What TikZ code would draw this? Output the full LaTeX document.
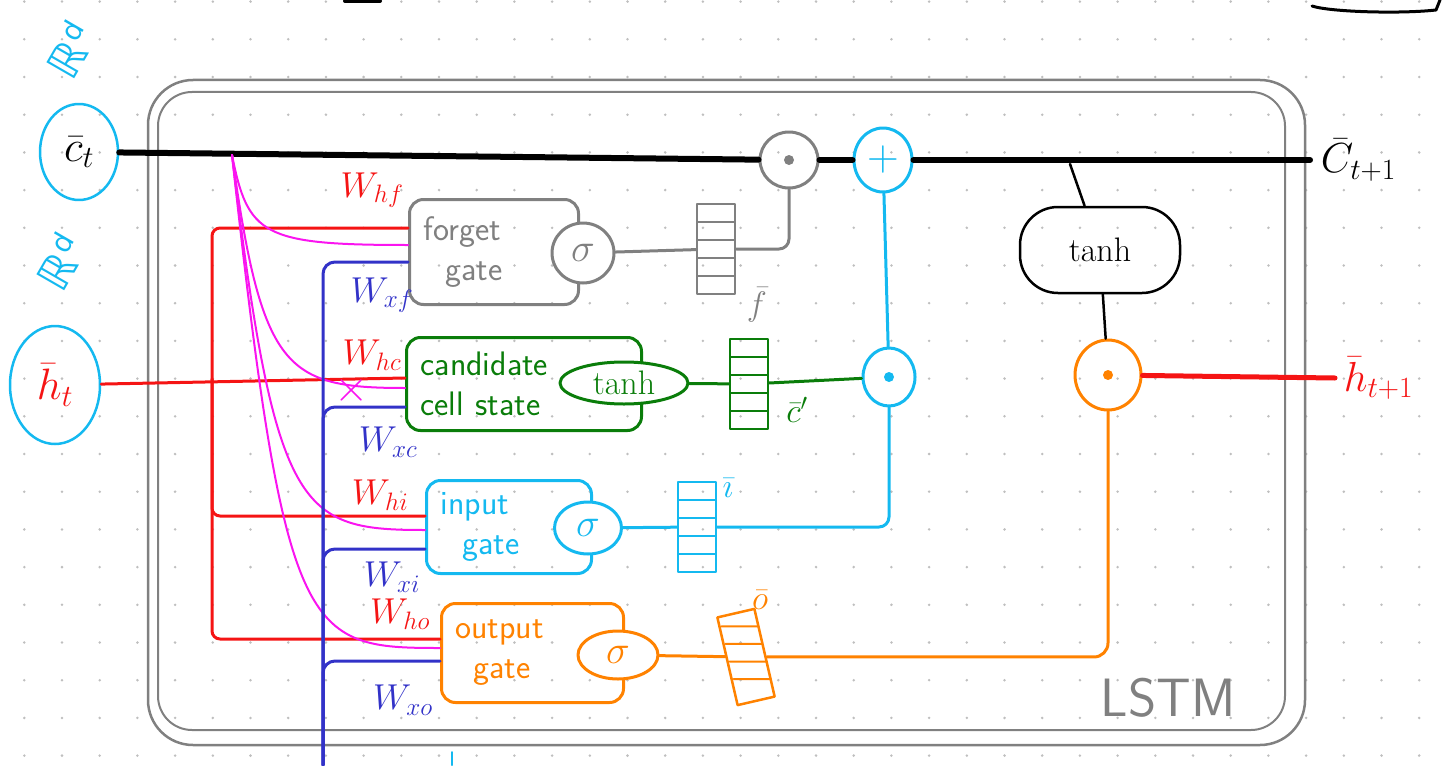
\RequirePackage{fix-cm}
\documentclass[tikz,border=0pt]{standalone}
\usepackage{amsmath}
\usepackage{amssymb}
\usepackage{fontspec}
\newfontfamily\dvfont{DejaVu Sans}
\usetikzlibrary{positioning,shapes.geometric}

\definecolor{penred}{RGB}{245,20,20}
\definecolor{penmag}{RGB}{250,20,240}
\definecolor{penblue}{RGB}{50,50,200}
\definecolor{pencyan}{RGB}{20,185,240}
\definecolor{pengreen}{RGB}{10,125,10}
\definecolor{penorange}{RGB}{255,130,0}
\definecolor{pengray}{RGB}{128,128,128}

\begin{document}
\begin{tikzpicture}[%
    x=1pt, y=-1pt,
    line cap=round, line join=round,
    line width=3pt,
    every node/.style={font=\fontsize{34}{38}\selectfont},
    gatebox/.style={draw, line width=3pt, rounded corners=14pt, anchor=west,
        align=left, inner xsep=14pt, inner ysep=4pt,
        font=\sffamily\fontsize{34}{40}\selectfont},
    sig/.style={draw, ellipse, fill=white, line width=3pt, inner sep=0pt,
        font=\fontsize{40}{40}\selectfont},
    vec/.style={draw, line width=2.5pt, minimum width=38pt, minimum height=90pt,
        inner sep=0pt,
        path picture={\foreach \k in {1,...,4}
            \draw[line width=2pt] ([yshift=-\k*18pt]path picture bounding box.north west)
                -- ([yshift=-\k*18pt]path picture bounding box.north east);}},
    odot/.style={draw=#1, ellipse, line width=3pt, inner sep=0pt,
        path picture={\fill[#1] (path picture bounding box.center) circle (5pt);}},
    wlab/.style={font=\fontsize{36}{36}\selectfont},
    space/.style={text=pencyan, rotate=60, font=\dvfont\fontsize{44}{44}\selectfont}
    ]

    % dotted paper
    \foreach \i in {0,...,37}
        \foreach \j in {0,...,20}
            \fill[black!25] (24.3+37.7*\i, 1.6+37.7*\j) circle (1.4pt);
    \useasboundingbox (0,0) rectangle (1447,765);

    % LSTM cell frame
    \draw[pengray, line width=2.5pt, rounded corners=45pt] (148,80) rectangle (1305,745);
    \draw[pengray, line width=2pt, rounded corners=34pt] (158,92) rectangle (1285,730);
    \node[text=pengray, font=\sffamily\fontsize{54}{54}\selectfont] (lstm) at (1168,698) {LSTM};

    % bits cut off at the top edge
    \draw[line width=3pt] (1312,6) .. controls (1330,12) and (1400,14) .. (1436,10) -- (1440,0);
    \draw[line width=4pt] (345,1) -- (380,1);
    \draw[pencyan, line width=2pt] (452,752) -- (452,765);

    % inputs
    \node[draw=pencyan, ellipse, line width=2.5pt, minimum width=78pt, minimum height=96pt,
          font=\fontsize{44}{44}\selectfont] (ct) at (79,152) {$\bar{c}_t$};
    \node[draw=pencyan, ellipse, line width=2.5pt, minimum width=90pt, minimum height=118pt,
          text=penred, font=\fontsize{44}{44}\selectfont] (ht) at (55,385) {$\bar{h}_t$};
    \node[space] (rdc) at (70,50) {ℝ\raisebox{16pt}{\fontsize{28}{28}\selectfont d}};
    \node[space] (rdh) at (60,262) {ℝ\raisebox{16pt}{\fontsize{28}{28}\selectfont d}};

    % cell state line
    \node[odot=pengray, minimum width=58pt, minimum height=56pt] (fmul) at (789,160) {};
    \node[draw=pencyan, ellipse, line width=3pt, minimum width=58pt, minimum height=64pt,
          text=pencyan, font=\fontsize{44}{44}\selectfont] (cadd) at (883,160) {$+$};
    \coordinate (cend) at (1310,160);
    \node[right=6pt of cend, font=\fontsize{42}{42}\selectfont] (cout) {$\bar{C}_{t+1}$};
    \path[line width=6pt] (ct) edge (fmul) (fmul) edge (cadd) (cadd) edge (cend);

    % output side
    \node[draw, line width=2.5pt, rounded corners=38pt, minimum width=160pt,
          minimum height=86pt] (tanh) at (1100,250) {tanh};
    \coordinate (tap) at (1070,164);
    \node[odot=penorange, minimum width=66pt, minimum height=70pt] (hmul) at (1108,375) {};
    \coordinate (hend) at (1335,378);
    \node[right=4pt of hend, text=penred, font=\fontsize{42}{42}\selectfont] (hout) {$\bar{h}_{t+1}$};
    \path[line width=2.5pt] (tap) edge (tanh) (tanh) edge (hmul);
    \path[penred, line width=5pt] (hmul) edge (hend);

    \node[odot=pencyan, minimum width=52pt, minimum height=58pt] (imul) at (889,377) {};
    \path[pencyan] (cadd) edge (imul);

    % gates
    \node[gatebox, draw=pengray, text=pengray, text width=141pt, minimum height=105pt]
        (fgate) at (408,252) {forget\\\hspace*{22pt}gate};
    \node[sig, draw=pengray, text=pengray, minimum width=62pt, minimum height=60pt]
        (fsig) at (583,253) {$\sigma$};
    \node[vec, draw=pengray] (fvec) at (716,249) {};
    \node[text=pengray] (flab) at (757,305) {$\bar{f}$};

    \node[gatebox, draw=pengreen, text=pengreen, text width=207pt, minimum height=93pt]
        (cgate) at (405,384) {candidate\\cell state};
    \node[draw=pengreen, ellipse, fill=white, line width=3pt, minimum width=128pt,
          minimum height=42pt, inner sep=0pt, text=pengreen] (ctanh) at (624,383) {tanh};
    \node[vec, draw=pengreen] (cvec) at (749,384) {};
    \node[text=pengreen] (clab) at (797,410) {$\bar{c}'$};

    \node[gatebox, draw=pencyan, text=pencyan, text width=137pt, minimum height=93pt]
        (igate) at (425,527) {input\\\hspace*{22pt}gate};
    \node[sig, draw=pencyan, text=pencyan, minimum width=67pt, minimum height=52pt]
        (isig) at (588,528) {$\sigma$};
    \node[vec, draw=pencyan] (ivec) at (697,527) {};
    \node[text=pencyan] (ilab) at (728,488) {$\bar{\imath}$};

    \node[gatebox, draw=penorange, text=penorange, text width=154pt, minimum height=99pt]
        (ogate) at (440,653) {output\\\hspace*{18pt}gate};
    \node[sig, draw=penorange, text=penorange, minimum width=80pt, minimum height=48pt]
        (osig) at (618,655) {$\sigma$};
    \node[vec, draw=penorange, rotate=13] (ovec) at (746,657) {};
    \node[text=penorange] (olab) at (760,600) {$\bar{o}$};

    % gate outputs
    \path[pengray] (fsig) edge (fvec);
    \draw[pengray, rounded corners=10pt] (fvec) -| (fmul);
    \path[pengreen] (ctanh) edge (cvec) (cvec) edge (imul);
    \path[pencyan] (isig) edge (ivec);
    \draw[pencyan, rounded corners=10pt] (ivec) -| (imul);
    \path[penorange] (osig) edge (ovec);
    \draw[penorange, rounded corners=14pt] (ovec) -| (hmul);

    % h_t into the gates
    \coordinate (hsplit) at (212,379);
    \draw[penred] (ht) -- ([yshift=6pt]cgate.west);
    \draw[penred, rounded corners=8pt] (hsplit) |- ([yshift=24pt]fgate.west);
    \draw[penred, rounded corners=8pt] (hsplit) |- ([yshift=11pt]igate.west);
    \draw[penred, rounded corners=8pt] (hsplit) |- ([yshift=14pt]ogate.west);

    % c_t peepholes
    \coordinate (cpeep) at (232,155);
    \draw[penmag, line width=2pt] (cpeep) .. controls (248,235) and (262,245) .. ([yshift=7pt]fgate.west);
    \draw[penmag, line width=2pt] (cpeep) .. controls (262,370) and (285,388) .. ([yshift=-4pt]cgate.west);
    \draw[penmag, line width=2pt] (cpeep) .. controls (275,515) and (300,530) .. ([yshift=-3pt]igate.west);
    \draw[penmag, line width=2pt] (cpeep) .. controls (285,640) and (305,648) .. ([yshift=5pt]ogate.west);
    \node[text=penmag, font=\fontsize{44}{44}\selectfont] (nopeep) at (352,390) {$\times$};

    % x_t from below
    \coordinate (xin) at (323,765);
    \draw[penblue, rounded corners=12pt] (xin) |- ([yshift=-10pt]fgate.west);
    \draw[penblue, rounded corners=12pt] (xin) |- ([yshift=-23pt]cgate.west);
    \draw[penblue, rounded corners=12pt] (xin) |- ([yshift=-22pt]igate.west);
    \draw[penblue, rounded corners=12pt] (xin) |- ([yshift=-8pt]ogate.west);

    % weight labels
    \node[wlab, text=penred] (whf) at (372,190) {$W_{hf}$};
    \node[wlab, text=penblue] (wxf) at (382,295) {$W_{xf}$};
    \node[wlab, text=penred] (whc) at (372,355) {$W_{hc}$};
    \node[wlab, text=penblue] (wxc) at (388,442) {$W_{xc}$};
    \node[wlab, text=penred] (whi) at (380,495) {$W_{hi}$};
    \node[wlab, text=penblue] (wxi) at (392,577) {$W_{xi}$};
    \node[wlab, text=penred] (who) at (400,614) {$W_{ho}$};
    \node[wlab, text=penblue] (wxo) at (403,700) {$W_{xo}$};

\end{tikzpicture}
\end{document}
